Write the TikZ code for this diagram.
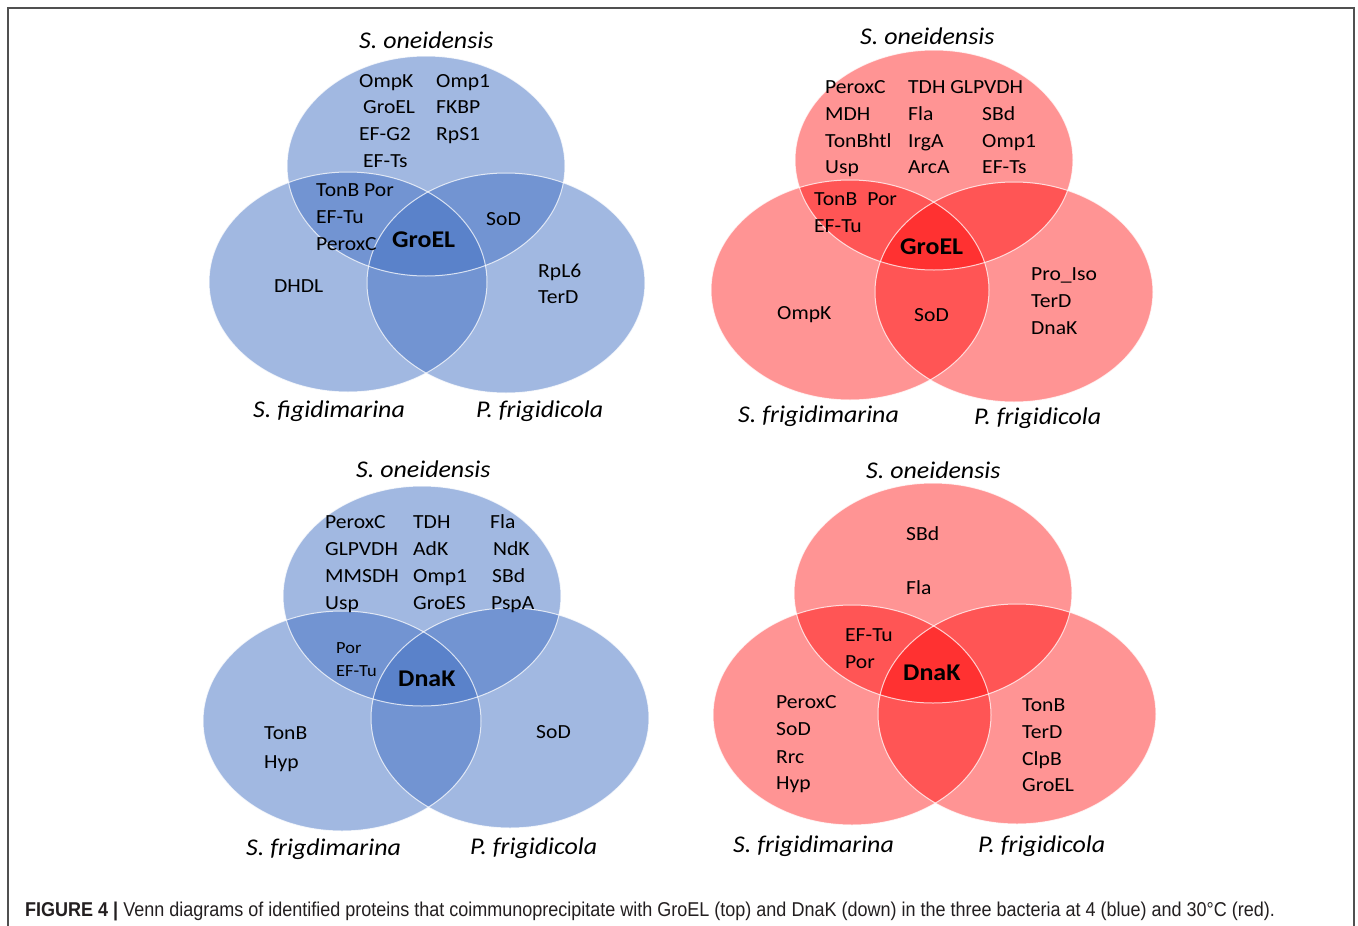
\documentclass[tikz,border=0pt]{standalone}
\usepackage{fontspec}
\setmainfont{Carlito}
\newfontfamily\genefont[FakeStretch=1.08]{Carlito}
\newfontfamily\capfont[FakeStretch=0.90]{Liberation Sans}
\definecolor{bluebase}{RGB}{68,114,196}
\definecolor{redbase}{RGB}{255,0,0}
\definecolor{framecol}{RGB}{80,80,80}
\definecolor{captext}{RGB}{35,31,32}
\begin{document}
\begin{tikzpicture}[x=1pt,y=-1pt,
  bset/.style={fill=bluebase, fill opacity=0.5},
  rset/.style={fill=redbase, fill opacity=0.42},
  rim/.style={draw=white, draw opacity=0.75, line width=1pt},
  gene/.style={anchor=base west, inner sep=0pt, yshift=-6.4pt, text=black, font=\genefont\fontsize{20}{24}\selectfont},
  core/.style={anchor=base west, inner sep=0pt, yshift=-7.7pt, text=black, font=\genefont\bfseries\fontsize{24}{28}\selectfont},
  species/.style={anchor=base west, inner sep=0pt, yshift=-7.7pt, text=black, font=\genefont\itshape\fontsize{24}{28}\selectfont},
  caption/.style={anchor=base west, inner sep=0pt, yshift=-7pt, text=captext, font=\capfont\fontsize{20}{24}\selectfont}]
\useasboundingbox (0,0) rectangle (1358,926);
\fill[white] (0,0) rectangle (1358,926);
\draw[framecol, line width=1.6pt] (8,926) -- (8,8) -- (1354,8) -- (1354,926);

% ---------- top-left (blue, GroEL) ----------
\foreach \c in {(426,166),(348,282),(506,283)}{
  \fill[bset] \c ellipse [x radius=139pt, y radius=110pt];}
\foreach \c in {(426,166),(348,282),(506,283)}{
  \draw[rim] \c ellipse [x radius=139pt, y radius=110pt];}
\node[species] (a0) at (359,41) {S. oneidensis};
\node[gene] (a1) at (359,81) {OmpK};
\node[gene] (a2) at (436,81) {Omp1};
\node[gene] (a3) at (363,107) {GroEL};
\node[gene] (a4) at (436,107) {FKBP};
\node[gene] (a5) at (359,134) {EF-G2};
\node[gene] (a6) at (436,134) {RpS1};
\node[gene] (a7) at (363,161) {EF-Ts};
\node[gene] (a8) at (316,190) {TonB Por};
\node[gene] (a9) at (316,217) {EF-Tu};
\node[gene] (a10) at (316,244) {PeroxC};
\node[core] (a11) at (392,240) {GroEL};
\node[gene] (a12) at (486,219) {SoD};
\node[gene] (a13) at (274,286) {DHDL};
\node[gene] (a14) at (538,271) {RpL6};
\node[gene] (a15) at (538,297) {TerD};
\node[species] (a16) at (253,410) {S. figidimarina};
\node[species] (a17) at (476,410) {P. frigidicola};

% ---------- top-right (red, GroEL) ----------
\foreach \c in {(934,160),(850,290),(1014,292)}{
  \fill[rset] \c ellipse [x radius=139pt, y radius=110pt];}
\foreach \c in {(934,160),(850,290),(1014,292)}{
  \draw[rim] \c ellipse [x radius=139pt, y radius=110pt];}
\node[species] (b0) at (860,37) {S. oneidensis};
\node[gene] (b1) at (825,87) {PeroxC};
\node[gene] (b2) at (908,87) {TDH GLPVDH};
\node[gene] (b3) at (825,114) {MDH};
\node[gene] (b4) at (908,114) {Fla};
\node[gene] (b5) at (982,114) {SBd};
\node[gene] (b6) at (825,141) {TonBhtl};
\node[gene] (b7) at (908,141) {IrgA};
\node[gene] (b8) at (982,141) {Omp1};
\node[gene] (b9) at (825,167) {Usp};
\node[gene] (b10) at (908,167) {ArcA};
\node[gene] (b11) at (982,167) {EF-Ts};
\node[gene] (b12) at (814,199) {TonB\enspace Por};
\node[gene] (b13) at (814,226) {EF-Tu};
\node[core] (b14) at (900,247) {GroEL};
\node[gene] (b15) at (1031,274) {Pro\_Iso};
\node[gene] (b16) at (1031,301) {TerD};
\node[gene] (b17) at (1031,328) {DnaK};
\node[gene] (b18) at (777,313) {OmpK};
\node[gene] (b19) at (914,315) {SoD};
\node[species] (b20) at (738,415) {S. frigidimarina};
\node[species] (b21) at (974,417) {P. frigidicola};

% ---------- bottom-left (blue, DnaK) ----------
\foreach \c in {(422,596),(342,721),(510,718)}{
  \fill[bset] \c ellipse [x radius=139pt, y radius=110pt];}
\foreach \c in {(422,596),(342,721),(510,718)}{
  \draw[rim] \c ellipse [x radius=139pt, y radius=110pt];}
\node[species] (c0) at (356,470) {S. oneidensis};
\node[gene] (c1) at (325,522) {PeroxC};
\node[gene] (c2) at (413,522) {TDH};
\node[gene] (c3) at (490,522) {Fla};
\node[gene] (c4) at (325,549) {GLPVDH};
\node[gene] (c5) at (413,549) {AdK};
\node[gene] (c6) at (493,549) {NdK};
\node[gene] (c7) at (325,576) {MMSDH};
\node[gene] (c8) at (413,576) {Omp1};
\node[gene] (c9) at (492,576) {SBd};
\node[gene] (c10) at (325,603) {Usp};
\node[gene] (c11) at (413,603) {GroES};
\node[gene] (c12) at (491,603) {PspA};
\node[gene, font=\genefont\fontsize{17}{20}\selectfont, yshift=-5.5pt] (c13) at (336,642) {Por};
\node[gene, font=\genefont\fontsize{17}{20}\selectfont, yshift=-5.5pt] (c14) at (336,665) {EF-Tu};
\node[core] (c15) at (398,679) {DnaK};
\node[gene] (c16) at (264,733) {TonB};
\node[gene] (c17) at (264,762) {Hyp};
\node[gene] (c18) at (536,732) {SoD};
\node[species] (c19) at (246,848) {S. frigdimarina};
\node[species] (c20) at (470,847) {P. frigidicola};

% ---------- bottom-right (red, DnaK) ----------
\foreach \c in {(933,593),(852,715),(1017,714)}{
  \fill[rset] \c ellipse [x radius=139pt, y radius=110pt];}
\foreach \c in {(933,593),(852,715),(1017,714)}{
  \draw[rim] \c ellipse [x radius=139pt, y radius=110pt];}
\node[species] (d0) at (866,471) {S. oneidensis};
\node[gene] (d1) at (906,534) {SBd};
\node[gene] (d2) at (906,588) {Fla};
\node[gene] (d3) at (845,635) {EF-Tu};
\node[gene] (d4) at (845,662) {Por};
\node[core] (d5) at (903,673) {DnaK};
\node[gene] (d6) at (776,702) {PeroxC};
\node[gene] (d7) at (776,729) {SoD};
\node[gene] (d8) at (776,757) {Rrc};
\node[gene] (d9) at (776,783) {Hyp};
\node[gene] (d10) at (1022,705) {TonB};
\node[gene] (d11) at (1022,732) {TerD};
\node[gene] (d12) at (1022,759) {ClpB};
\node[gene] (d13) at (1022,785) {GroEL};
\node[species] (d14) at (733,845) {S. frigidimarina};
\node[species] (d15) at (978,845) {P. frigidicola};

% ---------- caption ----------
\node[caption] (cap) at (25,909) {\textbf{FIGURE 4 |} Venn diagrams of identified proteins that coimmunoprecipitate with GroEL (top) and DnaK (down) in the three bacteria at 4 (blue) and 30°C (red).};
\end{tikzpicture}
\end{document}
